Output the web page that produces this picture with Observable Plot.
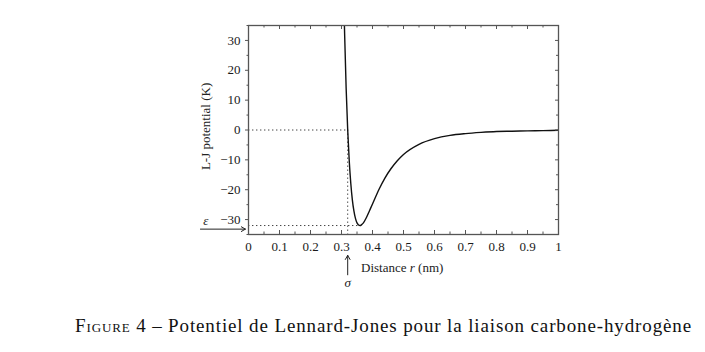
<!DOCTYPE html>
<html>
<head>
<meta charset="utf-8">
<script src="https://cdn.jsdelivr.net/npm/d3@7"></script>
<script src="https://cdn.jsdelivr.net/npm/@observablehq/plot@0.6"></script>
<style>
  html, body { margin: 0; padding: 0; background: #fff; }
  #wrap { position: relative; width: 705px; height: 352px; }
  #caption { position: absolute; left: 75px; top: 315px; white-space: nowrap;
    font-family: "Liberation Serif", serif; font-size: 19px; color: #111; }
  .sc { font-variant: small-caps; }
</style>
</head>
<body>
<div id="wrap">
  <div id="chart"></div>
  <div id="caption"><span class="sc">Figure</span> 4 – Potentiel de Lennard-Jones pour la liaison carbone-hydrogène</div>
</div>
<script>
// Distance r (nm) and L-J potential (K)
const distance = [0.305, 0.309, 0.31, 0.315, 0.32, 0.325, 0.33, 0.335, 0.34, 0.345, 0.35, 0.355, 0.36, 0.365, 0.37, 0.38, 0.39, 0.40, 0.42, 0.44, 0.46, 0.48, 0.50, 0.55, 0.60, 0.65, 0.70, 0.75, 0.80, 0.85, 0.90, 0.95, 1.0];
const potential = [57, 36.9, 32.5, 13.9, 0, -10.4, -17.9, -23.4, -27.1, -29.6, -31.1, -31.8, -32.0, -31.7, -31.2, -29.4, -27.1, -24.8, -20.1, -16.1, -12.9, -10.3, -8.2, -4.8, -2.9, -1.8, -1.2, -0.8, -0.5, -0.4, -0.3, -0.2, -0.1];

const sigma = [0.32];
const epsilon = [-32];
const rMin = [0.36];

const xTicks = [0, 0.1, 0.2, 0.3, 0.4, 0.5, 0.6, 0.7, 0.8, 0.9, 1];
const xTickLabels = ["0", "0.1", "0.2", "0.3", "0.4", "0.5", "0.6", "0.7", "0.8", "0.9", "1"];
const xMinor = [0.05, 0.15, 0.25, 0.35, 0.45, 0.55, 0.65, 0.75, 0.85, 0.95];
const yTicks = [-30, -20, -10, 0, 10, 20, 30];
const yMinor = [-35, -25, -15, -5, 5, 15, 25, 35];

// annotations (data units)
const epsArrow = [{x1: -0.155, x2: -0.01, y: -33.2}];
const epsLabel = [{x: -0.138, y: -30.3, text: "ε"}];
const sigArrow = [{x: 0.32, y1: -48.5, y2: -42}];
const sigLabel = [{x: 0.32, y: -51.3, text: "σ"}];
const xLabel = [{x: 0.363, y: -46.3, text: "Distance r (nm)"}];
const yLabel = [{x: -0.139, y: 1.2, text: "L-J potential (K)"}];

const W = 705, H = 300, ML = 248, MR = 147, MT = 25, MB = 66;
const FW = W - ML - MR, FH = H - MT - MB;
const ink = "#222", frameInk = "#555";
const dots = "1.4,2.6";

const chart = Plot.plot({
  width: W, height: H,
  marginLeft: ML, marginRight: MR, marginTop: MT, marginBottom: MB,
  x: {domain: [0, 1]},
  y: {domain: [-35, 35]},
  style: {fontFamily: "Liberation Serif, serif", fontSize: "13px", color: "#1a1a1a", background: "#fff"},
  marks: [
    // dotted guides
    Plot.ruleY([0], {x1: 0, x2: sigma[0], stroke: "#444", strokeDasharray: dots, strokeWidth: 1}),
    Plot.ruleX(sigma, {y1: 0, y2: -35, stroke: "#444", strokeDasharray: dots, strokeWidth: 1}),
    Plot.ruleY(epsilon, {x1: 0, x2: rMin[0], stroke: "#444", strokeDasharray: dots, strokeWidth: 1}),
    // curve
    Plot.line(distance.map((d, i) => ({r: d, v: potential[i]})), {x: "r", y: "v", stroke: "#111", strokeWidth: 1.4, curve: "monotone-x", clip: true}),
    // frame
    Plot.frame({stroke: frameInk, strokeWidth: 1.3}),
    // axes
    Plot.axisY(yTicks, {tickSize: 3, tickPadding: 5, label: null, stroke: frameInk, fontSize: 13}),
    Plot.axisX(xTicks, {tickSize: 0, tickPadding: 7, label: null, fontSize: 13, tickFormat: (d, i) => xTickLabels[i]}),
    // left minor ticks (outward)
    Plot.tickY(yMinor, {y: d => d, insetLeft: -1.5, insetRight: FW, stroke: frameInk}),
    // right ticks (inward)
    Plot.tickY(yTicks, {y: d => d, insetLeft: FW - 3, stroke: frameInk}),
    Plot.tickY(yMinor, {y: d => d, insetLeft: FW - 2, stroke: frameInk}),
    // bottom ticks (inward)
    Plot.tickX(xTicks, {x: d => d, insetTop: FH - 4, stroke: frameInk}),
    Plot.tickX(xMinor, {x: d => d, insetTop: FH - 2.5, stroke: frameInk}),
    // top ticks (inward)
    Plot.tickX(xTicks, {x: d => d, insetBottom: FH - 4, stroke: frameInk}),
    Plot.tickX(xMinor, {x: d => d, insetBottom: FH - 2.5, stroke: frameInk}),
    // epsilon arrow and label
    Plot.arrow(epsArrow, {x1: "x1", x2: "x2", y1: "y", y2: "y", stroke: ink, strokeWidth: 1, headLength: 7, headAngle: 60}),
    Plot.text(epsLabel, {x: "x", y: "y", text: "text", fontStyle: "italic", fontSize: 13, fill: ink}),
    // sigma arrow and label
    Plot.arrow(sigArrow, {x1: "x", x2: "x", y1: "y1", y2: "y2", stroke: ink, strokeWidth: 1, headLength: 7, headAngle: 60}),
    Plot.text(sigLabel, {x: "x", y: "y", text: "text", fontStyle: "italic", fontSize: 13, fill: ink}),
    // axis titles
    Plot.text(xLabel, {x: "x", y: "y", text: "text", textAnchor: "start", fontSize: 13, fill: ink}),
    Plot.text(yLabel, {x: "x", y: "y", text: "text", rotate: -90, fontSize: 13, fill: ink})
  ]
});

// italic r in the x-axis title
chart.querySelectorAll("text").forEach(t => {
  if (t.textContent === "Distance r (nm)") {
    t.textContent = "";
    const ns = "http://www.w3.org/2000/svg";
    const a = document.createElementNS(ns, "tspan"); a.textContent = "Distance\u00a0";
    const b = document.createElementNS(ns, "tspan"); b.textContent = "r"; b.setAttribute("font-style", "italic");
    const c = document.createElementNS(ns, "tspan"); c.textContent = "\u00a0(nm)";
    t.append(a, b, c);
  }
});
document.getElementById("chart").appendChild(chart);

// stretch caption to the reference width
const cap = document.getElementById("caption");
const target = 617;
const w0 = cap.getBoundingClientRect().width;
const n = cap.textContent.length;
cap.style.letterSpacing = ((target - w0) / n) + "px";
</script>
</body>
</html>
